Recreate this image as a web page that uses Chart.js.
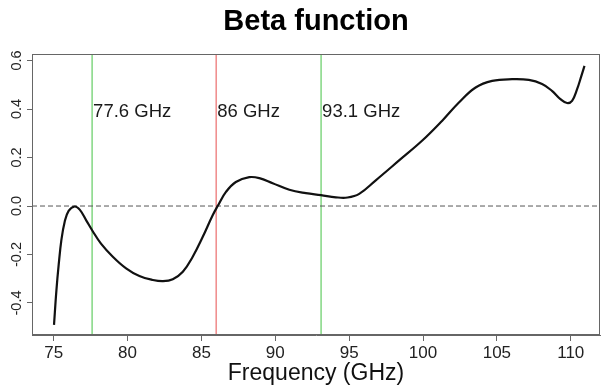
<!DOCTYPE html>
<html>
<head>
<meta charset="utf-8">
<title>Beta function</title>
<script src="https://cdn.jsdelivr.net/npm/chart.js@4/dist/chart.umd.min.js"></script>
<style>
    html, body { margin: 0; padding: 0; background: #fff; }
    #wrap { width: 604px; height: 391px; position: relative; }
</style>
</head>
<body>
<div id="wrap"><canvas id="beta-chart"></canvas></div>
<script>
// --- DATA ---
const freqGHz = [
    75.02, 75.18, 75.34, 75.52, 75.74, 76.01, 76.42, 76.76, 77.21, 77.6,
    78.2, 79.0, 79.9, 80.8, 81.7, 82.4, 83.06, 83.74, 84.41, 85.09,
    85.76, 86.1, 86.66, 87.33, 88.24, 88.92, 89.82, 90.95, 92.07, 93.09,
    94.1, 94.89, 95.68, 96.8, 98.38, 99.95, 101.3, 102.43, 103.56, 104.68,
    106.03, 107.16, 108.06, 108.73, 109.3, 109.75, 110.09, 110.43, 110.72, 110.93
];
const beta = [
    -0.49, -0.35, -0.24, -0.14, -0.066, -0.02, -0.002, -0.015, -0.06, -0.1,
    -0.155, -0.209, -0.257, -0.289, -0.305, -0.31, -0.302, -0.271, -0.209, -0.127,
    -0.038, 0.0, 0.058, 0.099, 0.119, 0.115, 0.094, 0.067, 0.053, 0.045,
    0.036, 0.035, 0.05, 0.106, 0.188, 0.27, 0.352, 0.427, 0.489, 0.516,
    0.523, 0.52, 0.503, 0.475, 0.441, 0.425, 0.434, 0.482, 0.537, 0.578
];

const markerFreqs = [77.6, 86, 93.1];
const markerLabels = ['77.6 GHz', '86 GHz', '93.1 GHz'];

const xTicks = [75, 80, 85, 90, 95, 100, 105, 110];
const yTicks = [-0.4, -0.2, 0.0, 0.2, 0.4, 0.6];

// axis ranges (R style padding around the data)
const X_MIN = 73.53, X_MAX = 111.98;
const Y_MIN = -0.532, Y_MAX = 0.627;
const LABEL_Y = 0.367;   // baseline of the marker labels

const FONT = '"Liberation Sans", Arial, Helvetica, sans-serif';
const AXIS_GREY = '#666';

// --- DATASETS ---
const curve = freqGHz.map((f, i) => ({ x: f, y: beta[i] }));

const markerSets = markerFreqs.map((f, i) => ({
    label: markerLabels[i],
    data: [{ x: f, y: Y_MIN }, { x: f, y: Y_MAX }],
    borderColor: f === 86 ? '#f09090' : '#8ad98a',
    borderWidth: 1.6,
    pointRadius: 0,
    order: 2
}));

// Marker captions, drawn next to each vertical line
const markerText = {
    id: 'markerText',
    afterDatasetsDraw(chart) {
        const { ctx, scales: { x, y } } = chart;
        ctx.save();
        ctx.font = `18.5px ${FONT}`;
        ctx.fillStyle = '#1a1a1a';
        ctx.textAlign = 'left';
        ctx.textBaseline = 'alphabetic';
        markerFreqs.forEach((f, i) => {
            ctx.fillText(markerLabels[i], x.getPixelForValue(f) + 1, y.getPixelForValue(LABEL_Y));
        });
        ctx.restore();
    }
};

// Full box round the plot region (like R's box())
const plotBox = {
    id: 'plotBox',
    afterDraw(chart) {
        const { ctx, chartArea: a } = chart;
        ctx.save();
        ctx.strokeStyle = AXIS_GREY;
        ctx.lineWidth = 1;
        ctx.strokeRect(Math.round(a.left) + 0.5, Math.round(a.top) + 0.5,
            Math.round(a.right - a.left) - 1, Math.round(a.bottom - a.top) - 1);
        ctx.restore();
    }
};

new Chart(document.getElementById('beta-chart'), {
    type: 'line',
    data: {
        datasets: [
            {
                label: 'Beta',
                data: curve,
                borderColor: '#111',
                borderWidth: 2.2,
                pointRadius: 0,
                tension: 0.4,
                fill: false,
                order: 0
            },
            {
                label: 'zero',
                data: [{ x: X_MIN, y: 0 }, { x: X_MAX, y: 0 }],
                borderColor: '#555',
                borderWidth: 1,
                borderDash: [5, 3],
                pointRadius: 0,
                order: 1
            },
            ...markerSets
        ]
    },
    options: {
        responsive: true,
        maintainAspectRatio: false,
        devicePixelRatio: 1,
        animation: false,
        layout: { padding: { left: 0, right: 4, top: 0, bottom: 0 } },
        plugins: {
            legend: { display: false },
            tooltip: { enabled: false },
            title: {
                display: true,
                text: 'Beta function',
                fullSize: false,
                color: '#000',
                font: { family: FONT, size: 29, weight: 'bold' },
                padding: { top: 5, bottom: 14.2 }
            }
        },
        scales: {
            x: {
                type: 'linear',
                min: X_MIN,
                max: X_MAX,
                afterBuildTicks: (axis) => { axis.ticks = xTicks.map(v => ({ value: v })); },
                afterFit: (axis) => { axis.height = 56; },
                grid: { drawOnChartArea: false, drawTicks: true, tickLength: 6, color: AXIS_GREY },
                border: { display: true, color: AXIS_GREY },
                ticks: {
                    color: '#222',
                    font: { family: FONT, size: 17 },
                    padding: 2,
                    maxRotation: 0,
                    callback: (v) => String(v)
                },
                title: {
                    display: true,
                    text: 'Frequency (GHz)',
                    color: '#111',
                    font: { family: FONT, size: 23 },
                    padding: { top: 0, bottom: 4 }
                }
            },
            y: {
                type: 'linear',
                min: Y_MIN,
                max: Y_MAX,
                afterBuildTicks: (axis) => { axis.ticks = yTicks.map(v => ({ value: v })); },
                afterFit: (axis) => { axis.width = 32; },
                grid: { drawOnChartArea: false, drawTicks: true, tickLength: 5, color: AXIS_GREY },
                border: { display: true, color: AXIS_GREY },
                ticks: {
                    color: '#222',
                    font: { family: FONT, size: 14.5 },
                    minRotation: 90,
                    maxRotation: 90,
                    crossAlign: 'center',
                    padding: -2,
                    callback: (v) => v.toFixed(1)
                }
            }
        }
    },
    plugins: [markerText, plotBox]
});
</script>
</body>
</html>
